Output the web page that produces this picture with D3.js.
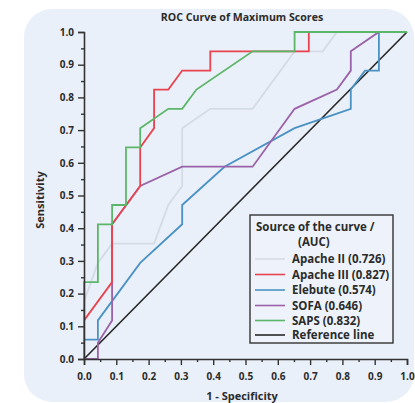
<!DOCTYPE html>
<html>
<head>
<meta charset="utf-8">
<script src="https://cdn.jsdelivr.net/npm/d3@7"></script>
<style>
  html, body { margin: 0; padding: 0; background: #ffffff; }
  svg { display: block; }
  text { font-family: "Open Sans", "DejaVu Sans", sans-serif; font-weight: bold; fill: #2b2b2b; }
</style>
</head>
<body>
<script>
// ---- data ----
const title = "ROC Curve of Maximum Scores";
const xLabel = "1 - Specificity";
const yLabel = "Sensitivity";
const tickValues = [0, 0.1, 0.2, 0.3, 0.4, 0.5, 0.6, 0.7, 0.8, 0.9, 1.0];
const minorTickValues = [0.05, 0.15, 0.25, 0.35, 0.45, 0.55, 0.65, 0.75, 0.85, 0.95];
const seriesNames = ["Apache II (0.726)", "Apache III (0.827)", "Elebute (0.574)", "SOFA (0.646)", "SAPS (0.832)", "Reference line"];
const seriesColors = ["#d3dbe6", "#e8434f", "#4a92c4", "#9a62a8", "#5cb66a", "#262626"];

const apacheIIFpr = [0, 0, 0.043, 0.087, 0.217, 0.261, 0.304, 0.304, 0.391, 0.522, 0.652, 0.739, 0.783, 1];
const apacheIITpr = [0, 0.176, 0.294, 0.353, 0.353, 0.471, 0.529, 0.706, 0.765, 0.765, 0.941, 0.941, 1, 1];

const apacheIIIFpr = [0, 0, 0.087, 0.087, 0.174, 0.174, 0.217, 0.217, 0.261, 0.304, 0.391, 0.391, 0.696, 0.696, 1];
const apacheIIITpr = [0, 0.118, 0.235, 0.412, 0.529, 0.647, 0.706, 0.824, 0.824, 0.882, 0.882, 0.941, 0.941, 1, 1];

const elebuteFpr = [0, 0, 0.043, 0.043, 0.174, 0.304, 0.304, 0.435, 0.652, 0.826, 0.826, 0.87, 0.913, 0.913, 1];
const elebuteTpr = [0, 0.059, 0.059, 0.118, 0.294, 0.412, 0.471, 0.588, 0.706, 0.765, 0.824, 0.882, 0.882, 1, 1];

const sofaFpr = [0, 0.043, 0.043, 0.087, 0.087, 0.174, 0.304, 0.522, 0.652, 0.783, 0.826, 0.826, 0.913, 1];
const sofaTpr = [0, 0, 0.05, 0.118, 0.412, 0.529, 0.588, 0.588, 0.765, 0.824, 0.882, 0.941, 1, 1];

const sapsFpr = [0, 0, 0.043, 0.043, 0.087, 0.087, 0.130, 0.130, 0.174, 0.174, 0.261, 0.304, 0.348, 0.522, 0.652, 0.652, 1];
const sapsTpr = [0, 0.235, 0.235, 0.412, 0.412, 0.471, 0.471, 0.647, 0.647, 0.706, 0.765, 0.765, 0.824, 0.941, 0.941, 1, 1];

const referenceFpr = [0, 1];
const referenceTpr = [0, 1];

const seriesFpr = [apacheIIFpr, apacheIIIFpr, elebuteFpr, sofaFpr, sapsFpr, referenceFpr];
const seriesTpr = [apacheIITpr, apacheIIITpr, elebuteTpr, sofaTpr, sapsTpr, referenceTpr];

// ---- layout ----
const W = 415, H = 403;
const svg = d3.select("body").append("svg").attr("width", W).attr("height", H);

svg.append("rect").attr("x", 24).attr("y", 9).attr("width", 390).attr("height", 393)
  .attr("rx", 28).attr("fill", "#eaf0f9");

const x = d3.scaleLinear().domain([0, 1]).range([84, 407]);
const y = d3.scaleLinear().domain([0, 1]).range([359, 32]);

// title
svg.append("text").attr("x", 242).attr("y", 20.5).attr("text-anchor", "middle")
  .style("font-size", "10.6px").text(title);

// curves
const line = d3.line().x(d => x(d[0])).y(d => y(d[1]));
const order = [0, 5, 2, 3, 1, 4];
order.forEach(i => {
  const pts = seriesFpr[i].map((f, k) => [f, seriesTpr[i][k]]);
  svg.append("path").datum(pts).attr("d", line)
    .attr("fill", "none").attr("stroke", seriesColors[i])
    .attr("stroke-width", i === 5 ? 1.6 : 1.8).attr("stroke-linejoin", "miter");
});

// axes
const axisColor = "#333";
const yAxis = svg.append("g").attr("transform", `translate(${x(0)},0)`)
  .call(d3.axisLeft(y).tickValues(tickValues).tickFormat(d3.format(".1f")).tickSize(6).tickPadding(4));
const yMinor = svg.append("g").attr("transform", `translate(${x(0)},0)`)
  .call(d3.axisLeft(y).tickValues(minorTickValues).tickFormat("").tickSize(3));
const xAxis = svg.append("g").attr("transform", `translate(0,${y(0)})`)
  .call(d3.axisBottom(x).tickValues(tickValues).tickFormat(d3.format(".1f")).tickSize(6).tickPadding(8));
const xMinor = svg.append("g").attr("transform", `translate(0,${y(0)})`)
  .call(d3.axisBottom(x).tickValues(minorTickValues).tickFormat("").tickSize(3));
[yAxis, yMinor, xAxis, xMinor].forEach(g => {
  g.selectAll("path").attr("stroke", axisColor).attr("stroke-width", 1.6);
  g.selectAll("line").attr("stroke", axisColor).attr("stroke-width", 1.4);
  g.selectAll("text").style("font-size", "10px").attr("fill", "#2b2b2b")
    .style("font-family", '"Open Sans", sans-serif').style("font-weight", "bold");
});
yMinor.select("path").remove();
xMinor.select("path").remove();

// axis titles
svg.append("text").attr("x", 242).attr("y", 400).attr("text-anchor", "middle")
  .style("font-size", "11px").text(xLabel);
svg.append("text").attr("transform", "translate(44,200) rotate(-90)").attr("text-anchor", "middle")
  .style("font-size", "11px").text(yLabel);

// legend
const lg = svg.append("g");
lg.append("rect").attr("x", 250).attr("y", 215).attr("width", 143).attr("height", 128)
  .attr("fill", "#eef3fb").attr("stroke", "#333").attr("stroke-width", 1.4);
lg.append("text").attr("x", 256).attr("y", 231).style("font-size", "11.5px").text("Source of the curve /");
lg.append("text").attr("x", 298).attr("y", 246).style("font-size", "11.5px").text("(AUC)");
const legendY = [259, 274.5, 290, 305.5, 320.5, 335];
seriesNames.forEach((name, i) => {
  lg.append("line").attr("x1", 255).attr("x2", 285).attr("y1", legendY[i]).attr("y2", legendY[i])
    .attr("stroke", seriesColors[i]).attr("stroke-width", 1.6);
  lg.append("text").attr("x", 292).attr("y", legendY[i] + 4).style("font-size", "11.5px").text(name);
});
</script>
</body>
</html>
